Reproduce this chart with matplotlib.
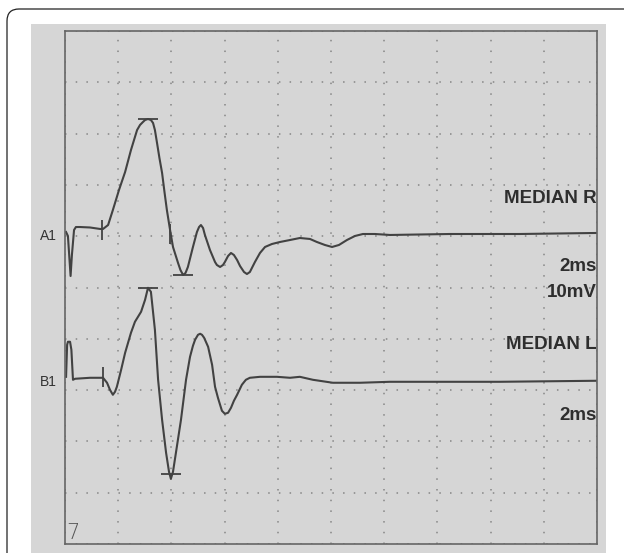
import matplotlib.pyplot as plt
from matplotlib.patches import FancyBboxPatch, Rectangle

a1_ms = [0.04, 0.11, 0.21, 0.26, 0.34, 0.41, 0.56, 0.94, 1.32, 1.43, 1.62, 1.80, 2.03, 2.26,
         2.48, 2.71, 2.82, 2.93, 3.01, 3.12, 3.23, 3.31, 3.38, 3.46, 3.55, 3.65, 3.74, 3.83,
         3.95, 4.06, 4.25, 4.34, 4.44, 4.53, 4.62, 4.81, 4.96, 5.04, 5.11, 5.19, 5.26, 5.45,
         5.64, 5.71, 5.83, 5.94, 6.01, 6.13, 6.24, 6.35, 6.47, 6.58, 6.73, 6.84, 6.95, 7.14,
         7.33, 7.52, 7.78, 8.08, 8.46, 8.83, 9.21, 9.47, 9.77, 10.04, 10.30, 10.60, 10.90,
         11.20, 11.65, 12.22, 14.47, 17.10, 20.0]
a1_mv = [-0.78, -1.56, -9.36, -5.26, -0.39, 0.19, 0.19, 0.10, -0.19, -0.19, 0.58, 3.51, 7.41,
         10.92, 15.20, 19.10, 20.08, 20.66, 21.05, 21.25, 21.05, 20.47, 19.10, 16.57, 13.65,
         10.72, 7.02, 3.51, -0.39, -3.70, -6.82, -8.19, -9.16, -8.77, -7.60, -3.70, -0.78,
         0.19, 0.58, 0.0, -1.36, -4.29, -6.63, -7.21, -7.60, -7.21, -6.63, -5.46, -4.87,
         -5.26, -6.24, -7.41, -8.58, -8.97, -8.58, -6.63, -4.87, -3.70, -3.12, -2.73, -2.34,
         -1.95, -2.14, -2.73, -3.31, -3.70, -3.31, -2.34, -1.56, -1.17, -1.17, -1.36, -1.17,
         -1.17, -0.97]

b1_ms = [0.04, 0.08, 0.11, 0.19, 0.24, 0.30, 0.38, 0.94, 1.43, 1.58, 1.69, 1.80, 1.88, 1.95,
         2.11, 2.26, 2.48, 2.63, 2.86, 3.01, 3.12, 3.23, 3.38, 3.50, 3.65, 3.80, 3.91, 3.98,
         4.06, 4.17, 4.36, 4.55, 4.70, 4.81, 4.89, 5.00, 5.08, 5.15, 5.23, 5.38, 5.53, 5.64,
         5.75, 5.83, 5.90, 6.01, 6.13, 6.24, 6.35, 6.47, 6.65, 6.80, 6.95, 7.33, 7.97, 8.46,
         8.83, 9.32, 10.07, 11.09, 12.22, 16.35, 20.0]
b1_mv = [0.19, 6.43, 7.02, 7.02, 5.46, -0.39, -0.19, 0.0, 0.0, -0.97, -2.34, -3.31, -2.73,
         -1.75, 1.56, 4.87, 8.77, 10.92, 12.87, 15.20, 17.54, 16.76, 9.36, -0.39, -8.19,
         -14.62, -18.32, -19.69, -18.32, -14.62, -8.19, -0.39, 4.09, 6.24, 7.41, 8.38, 8.58,
         8.38, 7.80, 6.04, 2.53, -1.75, -3.90, -5.26, -6.43, -7.02, -6.82, -5.85, -4.48,
         -3.31, -1.36, -0.39, 0.0, 0.19, 0.19, 0.0, 0.19, -0.39, -0.97, -0.97, -0.78, -0.78,
         -0.58]

# cursor marks placed by the machine (ms, mV)
a1_ticks_ms = [1.39, 3.95]
a1_ticks_mv = [-0.3, -1.17]
a1_flat_ms = [3.12, 4.44]
a1_flat_mv = [21.25, -9.16]
b1_ticks_ms = [1.43]
b1_ticks_mv = [0.19]
b1_flat_ms = [3.12, 3.98]
b1_flat_mv = [17.54, -18.7]

# screen baselines (mV on a 0-100 screen, 10 mV/div) and labels
a1_base = 61.6
b1_base = 32.4
right_labels = ['MEDIAN R', '2ms', '10mV', 'MEDIAN L', '2ms']
right_label_y = [67.4, 54.0, 49.1, 38.8, 25.1]

# 2. Figure, white frame and grey photo background
fig = plt.figure(figsize=(6.24, 5.53), dpi=100)
fig.patch.set_facecolor('white')
bg = fig.add_axes([0, 0, 1, 1])
bg.set_xlim(0, 624)
bg.set_ylim(553, 0)
bg.axis('off')
bg.add_patch(FancyBboxPatch((7, 9), 640, 600, boxstyle='round,pad=0,rounding_size=12',
                            facecolor='white', edgecolor='#222222', linewidth=0.9))
bg.add_patch(Rectangle((31, 24), 575, 540, facecolor='#d6d6d6', edgecolor='none'))

# 3. Oscilloscope screen
ax = fig.add_axes([65 / 624, 9 / 553, 532 / 624, 513 / 553])
ax.set_facecolor('#d6d6d6')
ax.set_xlim(0, 20)
ax.set_ylim(0, 100)
ax.set_xticks(range(0, 21, 2))
ax.set_yticks(range(0, 101, 10))
ax.tick_params(length=0, labelbottom=False, labelleft=False)
ax.grid(True, color='#868686', linewidth=1.1, linestyle=(0, (1, 6)))
for s in ax.spines.values():
    s.set_color('#666666')
    s.set_linewidth(1.2)

tc = '#424242'
ax.plot(a1_ms, [v + a1_base for v in a1_mv], color=tc, linewidth=1.5)
ax.plot(b1_ms, [v + b1_base for v in b1_mv], color=tc, linewidth=1.5)
ax.plot(a1_ticks_ms, [v + a1_base for v in a1_ticks_mv], linestyle='none', marker='|',
        markersize=14, markeredgewidth=1.3, color=tc)
ax.plot(b1_ticks_ms, [v + b1_base for v in b1_ticks_mv], linestyle='none', marker='|',
        markersize=14, markeredgewidth=1.3, color=tc)
ax.plot(a1_flat_ms, [v + a1_base for v in a1_flat_mv], linestyle='none', marker='_',
        markersize=14, markeredgewidth=1.3, color=tc)
ax.plot(b1_flat_ms, [v + b1_base for v in b1_flat_mv], linestyle='none', marker='_',
        markersize=14, markeredgewidth=1.3, color=tc)

# 4. Labels
for lab, y in zip(right_labels, right_label_y):
    ax.text(20, y, lab, ha='right', va='center', fontsize=13.5, fontweight='bold',
            family='Liberation Sans', color='#2e2e2e')
ax.text(-0.3, 60.0, 'A1', ha='right', va='center', fontsize=10, family='Liberation Sans',
        color='#333333', clip_on=False)
ax.text(-0.3, 31.6, 'B1', ha='right', va='center', fontsize=10, family='Liberation Sans',
        color='#333333', clip_on=False)
ax.text(0.05, 0.2, '7', ha='left', va='bottom', fontsize=15, family='DejaVu Sans',
        fontweight='light', color='#555555')

plt.savefig('out.png', dpi=100)
